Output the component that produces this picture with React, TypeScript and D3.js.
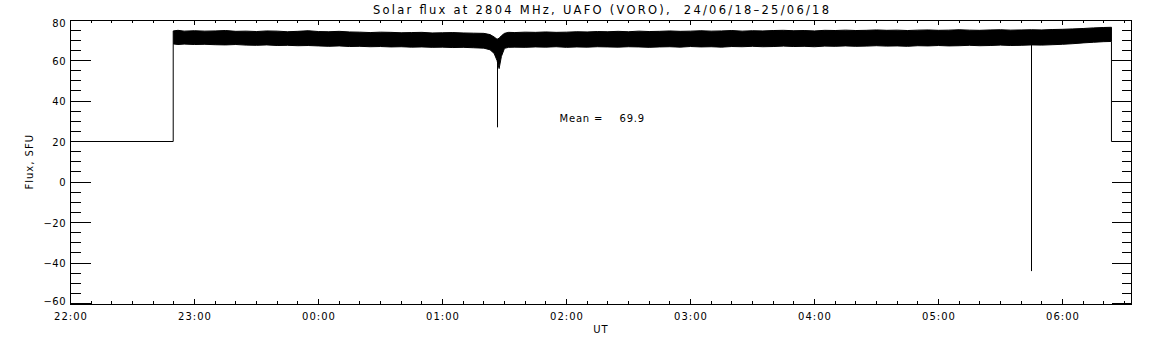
import React from "react";
import * as d3 from "d3";

// minutes since 22:00 UT on 24/06/18
const bandTimes = [
  49.7, 52, 55, 60, 65, 70, 75, 80, 85, 90, 95, 100, 105, 110, 115, 120, 125, 130, 135, 140,
  145, 150, 155, 160, 165, 170, 175, 180, 185, 190, 195, 200, 203, 205, 206.4, 207.4, 208.5,
  210, 212, 215, 220, 225, 230, 235, 240, 245, 250, 255, 260, 265, 270, 275, 280, 285, 290,
  295, 300, 305, 310, 315, 320, 325, 330, 335, 340, 345, 350, 355, 360, 365, 370, 375, 380,
  385, 390, 395, 400, 405, 410, 415, 420, 425, 430, 435, 440, 445, 450, 455, 460, 465, 470,
  475, 480, 485, 490, 495, 500, 503.7,
];
const bandUpper = [
  74.6, 74.9, 74.5,
  74.7, 74.5, 74.6, 74.8, 74.4, 74.5, 74.3, 74.6, 74.5, 74.2, 74.4, 74.7, 74.3, 74.2, 74.4,
  74.1, 74.0, 73.8, 74.0, 73.9, 73.7, 73.8, 73.9, 73.6, 73.7, 73.8, 73.6, 73.5, 73.4,
  72.8, 71.6, 70.5, 71.0, 72.2, 73.4, 73.9,
  73.8, 74.0, 73.9, 74.1, 73.9, 74.0, 74.2, 74.1, 74.3, 74.2, 74.4, 74.2, 74.5, 74.3, 74.4,
  74.6, 74.4, 74.5, 74.7, 74.5, 74.6, 74.8, 74.5, 74.7, 74.6, 74.8, 74.9, 74.7, 74.8, 74.6,
  74.9, 74.8, 75.0, 74.8, 74.9, 75.1, 74.9, 75.0, 74.8, 75.0, 75.1, 74.9, 75.0, 75.2, 75.0,
  74.9, 75.1, 75.2, 75.0, 75.1, 75.2, 75.1, 75.3, 75.4, 75.6, 75.8, 76.1, 76.3,
  76.4,
];
const bandLower = [
  68.2, 67.9, 68.1,
  67.9, 68.0, 67.8, 67.7, 67.9, 67.6, 67.5, 67.7, 67.4, 67.5, 67.3, 67.4, 67.2, 67.0, 67.2,
  66.9, 67.0, 66.8, 66.9, 66.7, 66.8, 66.6, 66.7, 66.5, 66.6, 66.4, 66.5, 66.3, 66.1,
  65.3, 63.5, 60.0, 56.0, 62.0, 66.0, 66.5,
  66.6, 66.5, 66.7, 66.6, 66.8, 66.5, 66.7, 66.6, 66.8, 66.7, 66.6, 66.8, 66.7, 66.5, 66.7,
  66.8, 66.6, 66.9, 66.7, 66.8, 66.6, 66.9, 66.8, 67.0, 66.8, 66.9, 67.1, 66.9, 67.0, 66.8,
  67.1, 67.0, 67.2, 67.0, 67.1, 67.3, 67.1, 67.2, 67.0, 67.3, 67.2, 67.4, 67.2, 67.3, 67.5,
  67.3, 67.4, 67.6, 67.4, 67.5, 67.7, 67.6, 67.8, 68.0, 68.3, 68.7, 69.0, 69.3,
  69.4,
];

// single-sample dropouts
const spikeTimes = [206.4, 464.8];
const spikeMins = [27, -44];

// receiver off level before and after the solar record
const offLevel = 20;
const offTimes = [0, 49.7, 503.7, 513.4];

const hourLabels = ["22:00", "23:00", "00:00", "01:00", "02:00", "03:00", "04:00", "05:00", "06:00"];
const meanValue = 69.9;

const App = () => {
  const width = 1152;
  const height = 345;
  const left = 70.5;
  const right = 1131.5;
  const top = 20;
  const bottom = 303.5;

  const x = d3.scaleLinear().domain([0, 513.4]).range([left, right]);
  const y = d3.scaleLinear().domain([-60, 80]).range([bottom, top]);

  const band = bandTimes.map((t, i) => ({ t, hi: bandUpper[i], lo: bandLower[i] }));
  const area = d3
    .area<{ t: number; hi: number; lo: number }>()
    .x((d) => x(d.t))
    .y0((d) => y(d.lo))
    .y1((d) => y(d.hi));

  const line = d3
    .line<[number, number]>()
    .x((d) => x(d[0]))
    .y((d) => y(d[1]));

  const leadIn: [number, number][] = [
    [offTimes[0], offLevel],
    [offTimes[1], offLevel],
    [offTimes[1], bandLower[0]],
  ];
  const leadOut: [number, number][] = [
    [offTimes[2], bandLower[bandLower.length - 1]],
    [offTimes[2], offLevel],
    [offTimes[3], offLevel],
  ];

  const xMinor = d3.range(0, 514, 10);
  const xMajor = hourLabels.map((_, i) => i * 60);
  const yMinor = d3.range(-60, 81, 5);
  const yMajor = d3.range(-60, 81, 20);

  const font = "'DejaVu Sans', sans-serif";

  return (
    <svg
      width={width}
      height={height}
      style={{ position: "absolute", left: 0, top: 0, background: "#fff" }}
      fontFamily={font}
    >
      <rect width={width} height={height} fill="#fff" />

      {/* data */}
      <path d={area(band) || ""} fill="#000" stroke="#000" strokeWidth={1} />
      <path d={line(leadIn) || ""} fill="none" stroke="#000" strokeWidth={1} />
      <path d={line(leadOut) || ""} fill="none" stroke="#000" strokeWidth={1} />
      {spikeTimes.map((t, i) => (
        <line
          key={"s" + i}
          x1={Math.round(x(t)) + 0.5}
          x2={Math.round(x(t)) + 0.5}
          y1={y(68)}
          y2={y(spikeMins[i])}
          stroke="#000"
          strokeWidth={1}
        />
      ))}

      {/* frame and ticks */}
      <g stroke="#000" strokeWidth={1} shapeRendering="crispEdges">
        <rect x={left} y={top + 0.5} width={right - left} height={bottom - top} fill="none" />
        {xMinor.map((t) => (
          <g key={"xm" + t}>
            <line x1={x(t)} x2={x(t)} y1={bottom} y2={bottom - 2.5} />
            <line x1={x(t)} x2={x(t)} y1={top} y2={top + 2.5} />
          </g>
        ))}
        {xMajor.map((t) => (
          <g key={"xM" + t}>
            <line x1={x(t)} x2={x(t)} y1={bottom} y2={bottom - 5} />
            <line x1={x(t)} x2={x(t)} y1={top} y2={top + 5} />
          </g>
        ))}
        {yMinor.map((v) => (
          <g key={"ym" + v}>
            <line x1={left} x2={left + 10} y1={y(v)} y2={y(v)} />
            <line x1={right} x2={right - 10} y1={y(v)} y2={y(v)} />
          </g>
        ))}
        {yMajor.map((v) => (
          <g key={"yM" + v}>
            <line x1={left} x2={left + 20} y1={y(v)} y2={y(v)} />
            <line x1={right} x2={right - 20} y1={y(v)} y2={y(v)} />
          </g>
        ))}
      </g>

      {/* tick labels */}
      <g fontSize={10} fill="#000">
        {xMajor.map((t, i) => (
          <text key={"xl" + t} x={x(t) + 0.5} y={319.5} textAnchor="middle" letterSpacing={1}>
            {hourLabels[i]}
          </text>
        ))}
        {yMajor.map((v) => (
          <text
            key={"yl" + v}
            x={66}
            y={Math.min(Math.max(y(v) + 4, 26.5), 304.5)}
            textAnchor="end"
            letterSpacing={0.5}
          >
            {v < 0 ? "\u2212" + Math.abs(v) : String(v)}
          </text>
        ))}
      </g>

      {/* titles */}
      <text
        x={(left + right) / 2}
        y={13.5}
        fontSize={11.5}
        textAnchor="middle"
        textLength={456}
        lengthAdjust="spacing"
        style={{ whiteSpace: "pre" }}
      >
        {"Solar flux at 2804 MHz, UAFO (VORO),  24/06/18\u201325/06/18"}
      </text>
      <text x={(left + right) / 2} y={332.5} fontSize={10} textAnchor="middle" letterSpacing={1}>
        UT
      </text>
      <text
        transform={`translate(33, ${(top + bottom) / 2}) rotate(-90)`}
        fontSize={10}
        textAnchor="middle"
        letterSpacing={1}
      >
        Flux, SFU
      </text>
      <text y={121.5} fontSize={10} letterSpacing={0.8}>
        <tspan x={559.5}>Mean =</tspan>
        <tspan x={619.5}>{meanValue.toFixed(1)}</tspan>
      </text>
    </svg>
  );
};

export default App;
